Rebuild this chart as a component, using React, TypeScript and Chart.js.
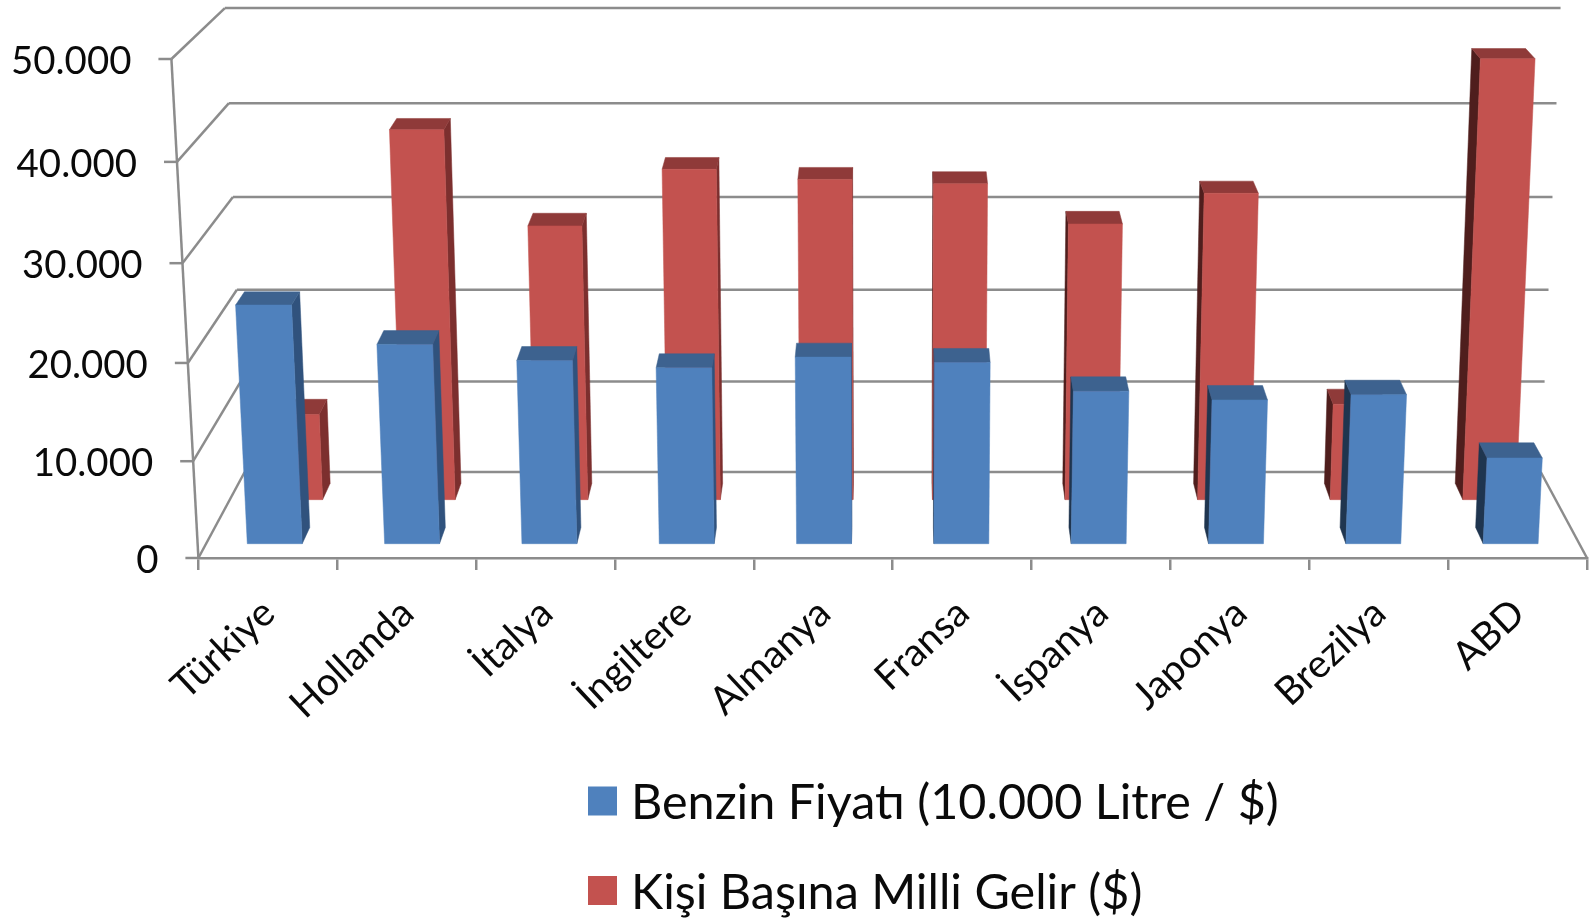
import React, { useEffect, useRef } from "react";
import { Chart, registerables, BarController, LinearScale } from "chart.js";

// Chart content
const categories = ["Türkiye", "Hollanda", "İtalya", "İngiltere", "Almanya", "Fransa", "İspanya", "Japonya", "Brezilya", "ABD"];
const fuelLabel = "Benzin Fiyatı (10.000 Litre / $)";
const incomeLabel = "Kişi Başına Milli Gelir ($)";
const fuelPrices = [24650, 20650, 19000, 18250, 19350, 18800, 15850, 14950, 15500, 8950];
const nationalIncome = [9200, 39200, 29200, 35100, 34050, 33600, 29400, 32600, 10300, 46500];

// Perspective of the 3D box: homogeneous divisor and vertical travel per unit of height / depth
const W_HEIGHT = -0.0374;
const W_DEPTH = 0.0714;
const W_CROSS = 0.0056;
const RISE = -501.2;
const DEPTH_DROP = -52.3;
const CROSS_DROP = 3.92;

const FONT_FAMILY = "Lato, 'Open Sans', sans-serif";
const LINE_COLOR = "#8c8c8c";
const TEXT_COLOR = "#0a0a0a";

function project(chart: any, px: number, py: number, depth: number) {
  const { left, right, top, bottom } = chart.chartArea;
  const h = (bottom - py) / (bottom - top);
  const w = 1 + W_HEIGHT * h + W_DEPTH * depth + W_CROSS * h * depth;
  const cx = (left + right) / 2;
  return {
    x: cx + (px - cx) / w,
    y: (bottom + RISE * h + DEPTH_DROP * depth + CROSS_DROP * h * depth) / w,
  };
}

function fillQuad(ctx: CanvasRenderingContext2D, pts: { x: number; y: number }[], color: string) {
  ctx.beginPath();
  pts.forEach((p, i) => (i ? ctx.lineTo(p.x, p.y) : ctx.moveTo(p.x, p.y)));
  ctx.closePath();
  ctx.fillStyle = color;
  ctx.fill();
  ctx.strokeStyle = color;
  ctx.lineWidth = 0.5;
  ctx.stroke();
}

// Bar controller that renders each bar as a box in perspective, still sized by the scales
class Bar3DController extends BarController {
  static id = "bar3d";
  static defaults = BarController.defaults;
  static overrides = BarController.overrides;

  draw() {
    const chart = this.chart as any;
    const ctx = chart.ctx;
    const ds = this.getDataset() as any;
    const { depthFront, depthBack, topColor, rightColor, leftColor } = ds;
    ctx.save();
    this._cachedMeta.data.forEach((bar: any) => {
      const { x, y, base, width } = bar.getProps(["x", "y", "base", "width"], true);
      const l = x - width / 2;
      const r = x + width / 2;
      const P = (px: number, py: number, d: number) => project(chart, px, py, d);
      const fbl = P(l, base, depthFront);
      const fbr = P(r, base, depthFront);
      const ftl = P(l, y, depthFront);
      const ftr = P(r, y, depthFront);
      const bbl = P(l, base, depthBack);
      const bbr = P(r, base, depthBack);
      const btl = P(l, y, depthBack);
      const btr = P(r, y, depthBack);
      if (bbr.x > fbr.x) fillQuad(ctx, [ftr, btr, bbr, fbr], rightColor);
      if (bbl.x < fbl.x) fillQuad(ctx, [ftl, btl, bbl, fbl], leftColor);
      fillQuad(ctx, [ftl, ftr, btr, btl], topColor);
      fillQuad(ctx, [ftl, ftr, fbr, fbl], bar.options.backgroundColor);
    });
    ctx.restore();
  }
}

// Value axis whose labels follow the slanted front edge of the box
class SlantedLinearScale extends LinearScale {
  static id = "slantedLinear";
  static defaults = LinearScale.defaults;

  _computeLabelItems(chartArea: any) {
    const items = (super._computeLabelItems as any)(chartArea);
    items.forEach((item: any, i: number) => {
      const p = project(this.chart, this.chart.chartArea.left, this.getPixelForTick(i), 0);
      item.options.translation = [p.x - 40, p.y + 2.5];
    });
    return items;
  }
}

Chart.register(...registerables, Bar3DController, SlantedLinearScale);

// Side wall, back wall and floor edges of the box
const wallsPlugin = {
  id: "walls",
  beforeDatasetsDraw(chart: any) {
    const { ctx, chartArea, scales } = chart;
    const { left, right, top, bottom } = chartArea;
    ctx.save();
    ctx.strokeStyle = LINE_COLOR;
    ctx.lineWidth = 2.5;
    const seg = (a: any, b: any) => {
      ctx.beginPath();
      ctx.moveTo(a.x, a.y);
      ctx.lineTo(b.x, b.y);
      ctx.stroke();
    };
    scales.y.ticks.forEach((_t: any, i: number) => {
      const py = scales.y.getPixelForTick(i);
      const front = project(chart, left, py, 0);
      const backLeft = project(chart, left, py, 1);
      const backRight = project(chart, right, py, 1);
      seg({ x: front.x - 13, y: front.y }, front);
      seg(front, backLeft);
      seg(backLeft, backRight);
    });
    seg(project(chart, left, bottom, 0), project(chart, left, top, 0));
    seg(project(chart, right, bottom, 0), project(chart, right, bottom, 1));
    ctx.restore();
  },
};

// Two-row legend below the axis
const LEGEND_LEFT = 588;
const LEGEND_ROWS = [803.5, 893];
const legendPlugin = {
  id: "stackedLegend",
  afterDraw(chart: any) {
    const { ctx } = chart;
    ctx.save();
    ctx.font = `48.5px ${FONT_FAMILY}`;
    ctx.textBaseline = "middle";
    chart.data.datasets.forEach((ds: any, i: number) => {
      const cy = LEGEND_ROWS[i];
      ctx.fillStyle = ds.backgroundColor;
      ctx.fillRect(LEGEND_LEFT, cy - 17, 29, 29);
      ctx.fillStyle = TEXT_COLOR;
      ctx.fillText(ds.label, LEGEND_LEFT + 43, cy);
    });
    ctx.restore();
  },
};

export default function App() {
  const ref = useRef<HTMLCanvasElement>(null);
  useEffect(() => {
    document.body.style.margin = "0";
    const chart = new Chart(ref.current as HTMLCanvasElement, {
      type: "bar3d" as any,
      data: {
        labels: categories,
        datasets: [
          {
            label: fuelLabel,
            data: fuelPrices,
            clip: false,
            backgroundColor: "#4f81bd",
            topColor: "#3d628f",
            rightColor: "#30527d",
            leftColor: "#1f354f",
            depthFront: 0.157,
            depthBack: 0.34,
          },
          {
            label: incomeLabel,
            data: nationalIncome,
            clip: false,
            backgroundColor: "#c3524f",
            topColor: "#8f3a39",
            rightColor: "#7c2f2e",
            leftColor: "#4f1e1d",
            depthFront: 0.663,
            depthBack: 0.86,
          },
        ] as any,
      },
      plugins: [wallsPlugin, legendPlugin],
      options: {
        animation: false,
        responsive: false,
        events: [],
        grouped: false,
        categoryPercentage: 1,
        barPercentage: 0.4,
        layout: { padding: { top: 60, right: 8, left: 0, bottom: 0 } },
        plugins: { legend: { display: false }, tooltip: { enabled: false } },
        scales: {
          x: {
            type: "category",
            offset: true,
            afterFit(scale: any) {
              scale.height = 360;
            },
            border: { display: true, color: LINE_COLOR, width: 2.5 },
            grid: {
              offset: true,
              drawOnChartArea: false,
              drawTicks: true,
              tickLength: 12,
              tickColor: LINE_COLOR,
              lineWidth: 2.5,
            },
            ticks: {
              autoSkip: false,
              minRotation: 43,
              maxRotation: 43,
              padding: 20,
              labelOffset: 1,
              color: TEXT_COLOR,
              font: { family: FONT_FAMILY, size: 39 },
            },
          },
          y: {
            type: "slantedLinear",
            min: 0,
            max: 50000,
            afterFit(scale: any) {
              scale.width = 198.4;
            },
            border: { display: false },
            grid: { display: false },
            ticks: {
              stepSize: 10000,
              color: TEXT_COLOR,
              font: { family: FONT_FAMILY, size: 38.4 },
              callback: (v: any) => Number(v).toLocaleString("tr-TR"),
            },
          },
        },
      } as any,
    });
    return () => chart.destroy();
  }, []);
  return <canvas ref={ref} width={1595} height={918} style={{ display: "block" }} />;
}
